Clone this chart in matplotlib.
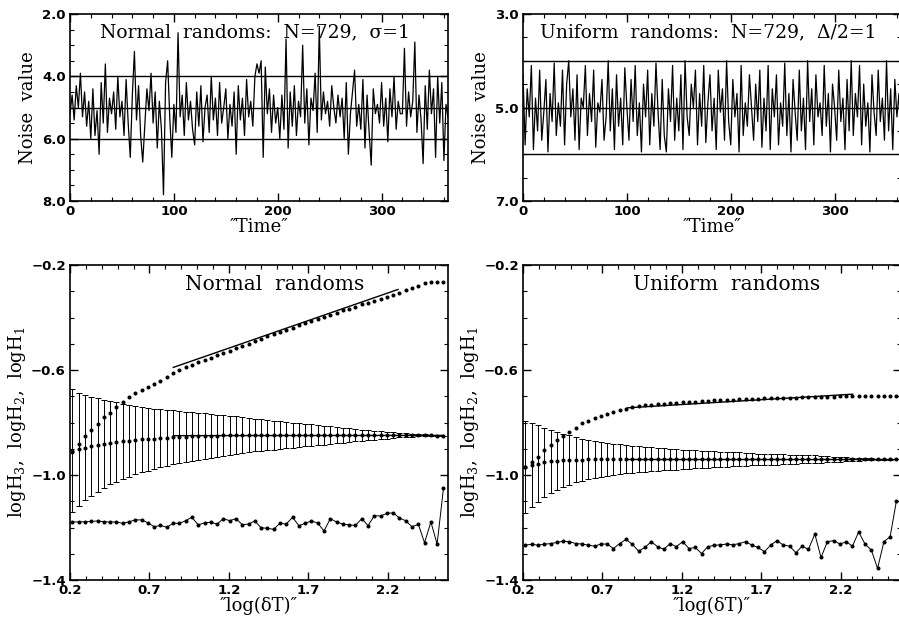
import matplotlib.pyplot as plt
import numpy as np
from matplotlib.ticker import MultipleLocator

plt.rcParams['font.family'] = 'DejaVu Serif'
plt.rcParams['mathtext.fontset'] = 'dejavuserif'

# noise series, one value every 2 time units
normal_noise = [
    5.2, 4.6, 5.4, 4.3, 5.0, 3.9, 5.3, 4.5, 5.6, 4.8,
    6.0, 4.4, 5.9, 5.1, 6.5, 4.2, 5.5, 3.6, 5.8, 4.7,
    5.2, 4.5, 5.7, 4.0, 5.3, 4.8, 5.9, 4.1, 5.5, 6.6,
    4.6, 3.2, 5.4, 4.3, 5.9, 6.75, 5.6, 4.4, 5.1, 3.9,
    5.5, 4.5, 6.3, 4.8, 5.7, 7.8, 4.2, 3.5, 5.3, 6.6,
    4.9, 5.8, 2.6, 5.3, 4.6, 5.9, 4.2, 5.4, 4.8, 5.7,
    6.2, 4.5, 5.6, 4.3, 6.1, 5.0, 4.6, 5.8, 4.0, 5.4,
    4.7, 5.9, 4.2, 5.5, 5.0, 4.4, 6.0, 4.9, 5.6, 4.5,
    6.5, 4.3, 5.4, 4.7, 5.9, 4.1, 5.3, 4.8, 5.6, 4.0,
    3.6, 3.9, 3.5, 6.6, 3.7, 5.2, 4.4, 5.8, 4.6, 5.5,
    5.0, 6.0, 4.6, 5.7, 2.8, 6.3, 4.5, 5.6, 4.3, 5.9,
    4.8, 5.3, 3.0, 5.5, 4.4, 6.2, 4.7, 5.1, 3.9, 5.8,
    2.4, 5.4, 4.5, 5.2, 4.8, 5.6, 4.3, 5.0, 5.5, 4.6,
    5.3, 4.7, 6.0, 4.2, 6.5, 5.2, 4.5, 3.8, 5.6, 4.9,
    5.7, 4.1, 6.3, 4.6, 5.8, 6.85, 4.4, 5.2, 4.9, 5.5,
    4.2, 5.6, 4.7, 6.1, 4.4, 5.3, 4.0, 5.7, 4.8, 5.2,
    5.2, 3.1, 5.6, 4.5, 5.3, 4.8, 2.9, 5.8, 4.6, 5.4,
    6.8, 4.3, 5.7, 3.8, 5.2, 4.4, 6.6, 4.0, 5.5, 4.2,
    6.7, 4.9, 5.3,
]
uniform_noise = [
    4.3, 5.8, 4.6, 5.2, 4.1, 5.9, 4.8, 5.5, 4.2, 5.7,
    5.1, 4.4, 5.95, 4.7, 5.3, 4.05, 5.6, 4.9, 5.4, 4.2,
    5.8, 4.5, 4.0, 5.2, 4.6, 5.7, 4.3, 5.9, 4.8, 5.0,
    4.1, 5.6, 4.7, 5.3, 4.2, 5.85, 4.9, 5.1, 4.4, 5.7,
    5.2, 4.0, 5.5, 4.6, 5.9, 4.3, 5.4, 4.8, 5.8, 4.15,
    5.0, 5.7, 4.4, 5.3, 4.1, 5.6, 4.9, 5.95, 4.5, 5.2,
    4.2, 5.8, 4.7, 5.4, 4.05, 5.1, 5.9, 4.4, 5.6, 5.95,
    4.6, 5.3, 4.1, 5.7, 4.8, 5.5, 4.3, 5.9, 4.0, 5.2,
    5.6, 4.5, 5.0, 4.2, 5.8, 4.7, 5.4, 4.1, 5.75, 4.9,
    4.3, 5.5, 4.8, 5.9, 4.2, 5.1, 4.6, 5.7, 4.0, 5.3,
    5.8, 4.4, 5.2, 4.7, 5.95, 4.1, 5.6, 4.9, 5.4, 4.3,
    5.0, 5.7, 4.5, 5.3, 4.2, 5.85, 4.8, 5.5, 4.1, 5.9,
    4.6, 5.2, 4.3, 5.8, 4.9, 5.4, 4.05, 5.6, 4.7, 5.95,
    4.4, 5.1, 5.7, 4.2, 5.5, 4.8, 5.9, 4.0, 5.3, 4.6,
    5.8, 4.3, 5.2, 4.9, 5.6, 4.1, 5.4, 4.7, 5.95, 4.5,
    5.0, 5.7, 4.2, 5.3, 4.8, 5.9, 4.4, 5.5, 4.0, 5.6,
    4.7, 5.2, 4.1, 5.8, 4.5, 5.4, 4.9, 5.95, 4.3, 5.1,
    5.6, 4.2, 5.3, 4.8, 5.7, 4.0, 5.5, 4.6, 5.9, 4.4,
    5.2, 4.7, 5.8,
]
time = np.arange(len(normal_noise)) * 2.0

log_dt = [
    0.215, 0.255, 0.294, 0.334, 0.373, 0.413, 0.453, 0.492, 0.532, 0.571,
    0.611, 0.651, 0.690, 0.730, 0.769, 0.809, 0.849, 0.888, 0.928, 0.967,
    1.007, 1.047, 1.086, 1.126, 1.165, 1.205, 1.245, 1.284, 1.324, 1.363,
    1.403, 1.443, 1.482, 1.522, 1.561, 1.601, 1.641, 1.680, 1.720, 1.759,
    1.799, 1.839, 1.878, 1.918, 1.957, 1.997, 2.037, 2.076, 2.116, 2.155,
    2.195, 2.235, 2.274, 2.313, 2.353, 2.393, 2.432, 2.472, 2.511, 2.551,
]

# normal randoms
n_h1 = [
    -0.912, -0.881, -0.851, -0.829, -0.805, -0.780, -0.763, -0.742, -0.723, -0.704,
    -0.689, -0.676, -0.666, -0.653, -0.641, -0.625, -0.613, -0.600, -0.590, -0.580,
    -0.571, -0.562, -0.553, -0.544, -0.535, -0.526, -0.517, -0.508, -0.499, -0.490,
    -0.481, -0.472, -0.463, -0.455, -0.447, -0.438, -0.430, -0.422, -0.413, -0.405,
    -0.397, -0.389, -0.381, -0.373, -0.366, -0.358, -0.350, -0.343, -0.336, -0.329,
    -0.321, -0.313, -0.305, -0.296, -0.287, -0.278, -0.270, -0.265, -0.264, -0.264,
]
n_h2 = [
    -0.907, -0.902, -0.896, -0.891, -0.886, -0.881, -0.877, -0.874, -0.872, -0.869,
    -0.867, -0.864, -0.863, -0.862, -0.860, -0.858, -0.856, -0.855, -0.854, -0.853,
    -0.852, -0.851, -0.850, -0.850, -0.849, -0.849, -0.848, -0.848, -0.848, -0.848,
    -0.848, -0.848, -0.848, -0.848, -0.848, -0.848, -0.848, -0.848, -0.848, -0.848,
    -0.848, -0.848, -0.848, -0.848, -0.848, -0.848, -0.848, -0.848, -0.848, -0.848,
    -0.848, -0.848, -0.848, -0.848, -0.848, -0.848, -0.848, -0.849, -0.850, -0.851,
]
n_h2_err = [
    0.235, 0.216, 0.201, 0.189, 0.178, 0.168, 0.159, 0.151, 0.144, 0.137,
    0.131, 0.125, 0.120, 0.115, 0.110, 0.106, 0.103, 0.100, 0.096, 0.093,
    0.090, 0.087, 0.084, 0.080, 0.077, 0.074, 0.071, 0.068, 0.065, 0.062,
    0.060, 0.057, 0.055, 0.052, 0.050, 0.048, 0.046, 0.043, 0.041, 0.038,
    0.036, 0.034, 0.031, 0.029, 0.026, 0.024, 0.021, 0.019, 0.017, 0.015,
    0.013, 0.011, 0.009, 0.008, 0.006, 0.005, 0.004, 0.003, 0.002, 0.001,
]
n_h3 = [
    -1.178, -1.179, -1.178, -1.177, -1.175, -1.178, -1.179, -1.179, -1.184, -1.178,
    -1.171, -1.171, -1.182, -1.197, -1.192, -1.199, -1.184, -1.184, -1.174, -1.161,
    -1.190, -1.182, -1.180, -1.187, -1.166, -1.174, -1.166, -1.189, -1.187, -1.175,
    -1.201, -1.203, -1.207, -1.183, -1.187, -1.161, -1.193, -1.184, -1.175, -1.183,
    -1.213, -1.166, -1.179, -1.187, -1.190, -1.192, -1.166, -1.193, -1.155, -1.156,
    -1.146, -1.144, -1.164, -1.174, -1.197, -1.188, -1.258, -1.179, -1.263, -1.051,
]
n_fit1_x, n_fit1_y = [0.85, 2.265], [-0.590, -0.293]
n_fit2_x, n_fit2_y = [0.85, 2.551], [-0.850, -0.849]

# uniform randoms
u_h1 = [
    -0.971, -0.952, -0.930, -0.905, -0.886, -0.867, -0.851, -0.835, -0.820, -0.803,
    -0.793, -0.784, -0.775, -0.768, -0.760, -0.754, -0.747, -0.742, -0.738, -0.735,
    -0.732, -0.730, -0.728, -0.726, -0.724, -0.723, -0.721, -0.720, -0.718, -0.717,
    -0.716, -0.715, -0.714, -0.713, -0.712, -0.711, -0.710, -0.709, -0.708, -0.707,
    -0.707, -0.706, -0.705, -0.705, -0.704, -0.703, -0.703, -0.702, -0.702, -0.701,
    -0.700, -0.700, -0.699, -0.699, -0.699, -0.699, -0.699, -0.699, -0.699, -0.699,
]
u_h2 = [
    -0.971, -0.963, -0.957, -0.952, -0.948, -0.946, -0.944, -0.943, -0.942, -0.941,
    -0.940, -0.940, -0.940, -0.940, -0.940, -0.940, -0.940, -0.940, -0.940, -0.940,
    -0.940, -0.940, -0.940, -0.940, -0.940, -0.940, -0.940, -0.940, -0.940, -0.940,
    -0.940, -0.940, -0.940, -0.940, -0.940, -0.940, -0.940, -0.940, -0.940, -0.940,
    -0.940, -0.940, -0.940, -0.940, -0.940, -0.940, -0.940, -0.940, -0.940, -0.940,
    -0.940, -0.940, -0.940, -0.940, -0.940, -0.940, -0.940, -0.940, -0.940, -0.940,
]
u_h2_err = [
    0.175, 0.160, 0.146, 0.133, 0.121, 0.111, 0.102, 0.094, 0.086, 0.080,
    0.075, 0.070, 0.066, 0.062, 0.059, 0.057, 0.054, 0.052, 0.050, 0.048,
    0.046, 0.044, 0.042, 0.040, 0.039, 0.037, 0.036, 0.034, 0.033, 0.032,
    0.030, 0.029, 0.028, 0.027, 0.026, 0.025, 0.023, 0.022, 0.021, 0.020,
    0.020, 0.019, 0.018, 0.017, 0.016, 0.016, 0.015, 0.013, 0.012, 0.010,
    0.009, 0.008, 0.006, 0.005, 0.004, 0.003, 0.002, 0.001, 0.001, 0.000,
]
u_h3 = [
    -1.267, -1.264, -1.267, -1.264, -1.261, -1.257, -1.252, -1.254, -1.261, -1.263,
    -1.267, -1.271, -1.263, -1.263, -1.280, -1.261, -1.245, -1.264, -1.290, -1.276,
    -1.254, -1.273, -1.283, -1.261, -1.273, -1.254, -1.280, -1.276, -1.299, -1.273,
    -1.268, -1.266, -1.263, -1.266, -1.261, -1.254, -1.267, -1.276, -1.292, -1.267,
    -1.250, -1.267, -1.271, -1.296, -1.271, -1.283, -1.225, -1.314, -1.254, -1.250,
    -1.263, -1.254, -1.271, -1.217, -1.263, -1.286, -1.356, -1.254, -1.235, -1.098,
]
u_fit1_x, u_fit1_y = [0.857, 2.275], [-0.744, -0.692]
u_fit2_x, u_fit2_y = [0.857, 2.551], [-0.940, -0.940]

fig = plt.figure(figsize=(8.99, 6.2), dpi=100)
w = 0.4205
ax_tl = fig.add_axes([0.0779, 0.6758, w, 0.3016])
ax_tr = fig.add_axes([0.5818, 0.6758, w, 0.3016])
ax_bl = fig.add_axes([0.0779, 0.0645, w, 0.508])
ax_br = fig.add_axes([0.5818, 0.0645, w, 0.508])


def style(ax):
    ax.tick_params(which='both', direction='in', top=True, right=True, pad=3)
    ax.tick_params(which='major', length=6, width=1)
    ax.tick_params(which='minor', length=3, width=0.8)
    for s in ax.spines.values():
        s.set_linewidth(1.2)
    for lab in ax.get_xticklabels() + ax.get_yticklabels():
        lab.set_fontweight('bold')
        lab.set_fontfamily('DejaVu Sans')
        lab.set_fontsize(9.5)


# top panels: noise vs time
for ax, noise, ylo, yhi, yt, title, tx in [
        (ax_tl, normal_noise, 2, 8, [2, 4, 6, 8], 'Normal  randoms:  N=729,  \u03c3=1', 0.079),
        (ax_tr, uniform_noise, 3, 7, [3, 5, 7], 'Uniform  randoms:  N=729,  \u0394/2=1', 0.045)]:
    ax.plot(time, noise, color='black', lw=0.9)
    for lvl in [4, 5, 6]:
        ax.axhline(lvl, color='black', lw=1)
    ax.set_xlim(0, 364)
    ax.set_ylim(yhi, ylo)
    ax.set_xticks([0, 100, 200, 300])
    ax.xaxis.set_minor_locator(MultipleLocator(20))
    ax.set_yticks(yt, ['%.1f' % v for v in yt])
    ax.yaxis.set_minor_locator(MultipleLocator(0.5))
    ax.set_xlabel('\u2033Time\u2033', fontsize=13, labelpad=0)
    ax.set_ylabel('Noise  value', fontsize=13, labelpad=4)
    ax.text(tx, 0.9, title, transform=ax.transAxes, ha='left', va='center',
            fontsize=13.5, clip_on=False)
    style(ax)

# bottom panels: log H vs log dT
for ax, h1, h2, err, h3, f1x, f1y, f2x, f2y, title, tx in [
        (ax_bl, n_h1, n_h2, n_h2_err, n_h3, n_fit1_x, n_fit1_y, n_fit2_x, n_fit2_y,
         'Normal  randoms', 0.304),
        (ax_br, u_h1, u_h2, u_h2_err, u_h3, u_fit1_x, u_fit1_y, u_fit2_x, u_fit2_y,
         'Uniform  randoms', 0.291)]:
    ax.errorbar(log_dt, h2, yerr=err, fmt='none', ecolor='black', elinewidth=0.7,
                capsize=2.5, capthick=0.7)
    ax.plot(log_dt, h2, 'o', color='black', ms=1.9)
    ax.plot(log_dt, h1, 'o', color='black', ms=1.9)
    ax.plot(log_dt, h3, '-o', color='black', ms=1.9, lw=0.7)
    ax.plot(f1x, f1y, color='black', lw=1)
    ax.plot(f2x, f2y, color='black', lw=1)
    ax.set_xlim(0.2, 2.58)
    ax.set_ylim(-1.4, -0.2)
    ax.set_xticks([0.2, 0.7, 1.2, 1.7, 2.2])
    ax.xaxis.set_minor_locator(MultipleLocator(0.1))
    ax.set_yticks([-1.4, -1.0, -0.6, -0.2])
    ax.yaxis.set_minor_locator(MultipleLocator(0.1))
    ax.set_xlabel('\u2033log(\u03b4T)\u2033', fontsize=13, labelpad=0)
    ax.set_ylabel('logH$_3$,  logH$_2$,  logH$_1$', fontsize=13, labelpad=2)
    ax.text(tx, 0.937, title, transform=ax.transAxes, ha='left', va='center',
            fontsize=14.5)
    style(ax)

fig.savefig('out.png', dpi=100)
